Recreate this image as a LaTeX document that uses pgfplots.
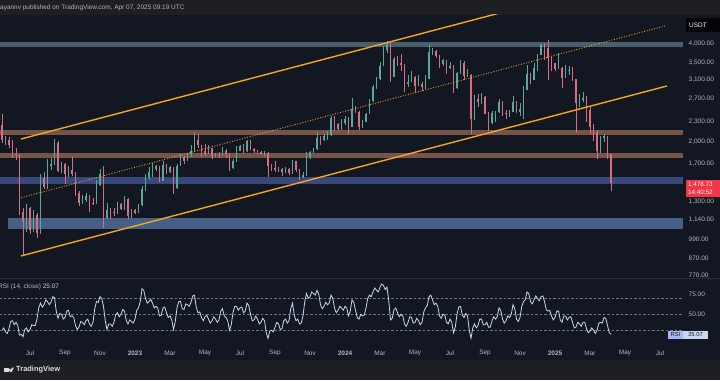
\documentclass[border=0pt]{standalone}
\usepackage{pgfplots}
\pgfplotsset{compat=1.18}
\usepackage{pgfplotstable}
\usepackage{fontspec}
\setmainfont{Liberation Sans}
\definecolor{bg}{HTML}{131722}
\definecolor{barbg}{HTML}{1E1F23}
\definecolor{ticktext}{HTML}{B2B5BE}
\definecolor{upcol}{HTML}{56A898}
\definecolor{dncol}{HTML}{D46E80}
\definecolor{chan}{HTML}{F5A524}
\definecolor{zgray}{RGB}{74,93,108}
\definecolor{zbrown}{RGB}{117,84,74}
\definecolor{zblueA}{RGB}{56,72,120}
\definecolor{zblueB}{RGB}{70,95,135}
\definecolor{rsicol}{HTML}{C8D7F0}
\definecolor{redlab}{HTML}{F23645}
\definecolor{seppane}{HTML}{2A2E39}

\pgfplotstableread{
x O H L C
-1.6 2250 2420 1980 2010
-1.4 2010 2080 1940 2020
-1.2 2020 2060 1900 1945
-1.0 1945 2010 1780 1820
-0.8 1820 1900 1750 1810
-0.6 1810 1830 1180 1210
-0.4 1210 1240 880 1130
-0.2 1130 1280 1050 1240
0.0 1240 1250 1030 1060
0.2 1060 1220 1050 1180
0.4 1180 1200 1000 1040
0.6 1040 1580 1030 1540
0.8 1540 1600 1420 1440
1.0 1440 1760 1420 1680
1.2 1680 1780 1630 1700
1.4 1700 2030 1690 1980
1.6 1980 2000 1600 1620
1.8 1620 1720 1590 1700
2.0 1700 1710 1470 1580
2.2 1580 1680 1550 1630
2.4 1630 1790 1560 1580
2.6 1580 1600 1350 1380
2.8 1380 1400 1260 1290
3.0 1290 1360 1280 1310
3.2 1310 1380 1300 1350
3.4 1350 1360 1210 1290
3.6 1290 1330 1270 1285
3.8 1285 1520 1280 1460
4.0 1460 1640 1450 1580
4.2 1580 1670 1080 1160
4.4 1160 1290 1150 1220
4.6 1220 1240 1150 1210
4.8 1210 1240 1170 1200
5.0 1200 1300 1190 1280
5.2 1280 1290 1220 1230
5.4 1230 1350 1225 1320
5.6 1320 1330 1150 1170
5.8 1170 1230 1160 1220
6.0 1220 1230 1190 1200
6.2 1200 1280 1195 1265
6.4 1265 1450 1260 1420
6.6 1420 1580 1400 1550
6.8 1550 1660 1520 1610
7.0 1610 1710 1550 1640
7.2 1640 1690 1620 1670
7.4 1670 1680 1490 1510
7.6 1510 1740 1500 1690
7.8 1690 1700 1580 1600
8.0 1600 1680 1590 1660
8.2 1660 1665 1370 1430
8.4 1430 1700 1420 1680
8.6 1680 1830 1670 1790
8.8 1790 1800 1700 1740
9.0 1740 1840 1740 1820
9.2 1820 1940 1790 1860
9.4 1860 2140 1850 2010
9.6 2010 2100 1900 1940
9.8 1940 1950 1790 1860
10.0 1860 1960 1800 1830
10.2 1830 1950 1820 1900
10.4 1900 1910 1760 1800
10.6 1800 1840 1790 1810
10.8 1810 1850 1770 1805
11.0 1805 1920 1800 1860
11.2 1860 1890 1780 1830
11.4 1830 1840 1620 1650
11.6 1650 1760 1640 1740
11.8 1740 1930 1720 1870
12.0 1870 1950 1860 1930
12.2 1930 1960 1840 1860
12.4 1860 2020 1850 2000
12.6 2000 2010 1880 1890
12.8 1890 1900 1840 1860
13.0 1860 1880 1820 1850
13.2 1850 1870 1810 1830
13.4 1830 1860 1800 1840
13.6 1840 1850 1550 1670
13.8 1670 1700 1620 1650
14.0 1650 1730 1610 1630
14.2 1630 1660 1600 1640
14.4 1640 1650 1560 1600
14.6 1600 1660 1590 1640
14.8 1640 1650 1570 1590
15.0 1590 1750 1580 1730
15.2 1730 1740 1610 1630
15.4 1630 1640 1520 1550
15.6 1550 1610 1540 1570
15.8 1570 1850 1560 1790
16.0 1790 1870 1760 1850
16.2 1850 1910 1840 1890
16.4 1890 2130 1880 2050
16.6 2050 2070 1940 2010
16.8 2010 2100 2000 2080
17.0 2080 2150 2020 2090
17.2 2090 2400 2080 2360
17.4 2360 2390 2150 2260
17.6 2260 2280 2150 2180
17.8 2180 2340 2170 2270
18.0 2270 2400 2250 2350
18.2 2350 2370 2100 2220
18.4 2220 2715 2210 2520
18.6 2520 2570 2440 2470
18.8 2470 2480 2170 2220
19.0 2220 2330 2200 2300
19.2 2300 2440 2290 2430
19.4 2430 2700 2420 2660
19.6 2660 2990 2650 2950
19.8 2950 3150 2900 3110
20.0 3110 3520 3100 3430
20.2 3430 3950 3420 3820
20.4 3820 4090 3740 4000
20.6 4000 4020 3060 3170
20.8 3170 3650 3150 3590
21.0 3590 3660 3420 3500
21.2 3500 3730 3300 3450
21.4 3450 3480 2850 3010
21.6 3010 3200 2950 3060
21.8 3060 3290 3050 3150
22.0 3150 3180 2810 2970
22.2 2970 3200 2960 3010
22.4 3010 3050 2860 2950
22.6 2950 3200 2910 3120
22.8 3120 3975 3110 3780
23.0 3780 3890 3700 3810
23.2 3810 3840 3620 3680
23.4 3680 3700 3370 3470
23.6 3470 3600 3430 3560
23.8 3560 3570 3240 3370
24.0 3370 3520 3350 3430
24.2 3430 3440 2810 2930
24.4 2930 3270 2900 3250
24.6 3250 3560 3230 3500
24.8 3500 3540 3100 3180
25.0 3180 3350 3150 3200
25.2 3200 3220 2110 2340
25.4 2340 2780 2320 2700
25.6 2700 2790 2550 2640
25.8 2640 2820 2600 2750
26.0 2750 2760 2420 2430
26.2 2430 2470 2150 2270
26.4 2270 2480 2260 2440
26.6 2440 2480 2300 2460
26.8 2460 2700 2450 2640
27.0 2640 2670 2400 2450
27.2 2450 2500 2350 2430
27.4 2430 2500 2380 2470
27.6 2470 2760 2460 2650
27.8 2650 2660 2440 2470
28.0 2470 2620 2400 2510
28.2 2510 2960 2350 2890
28.4 2890 3440 2880 3240
28.6 3240 3250 3000 3100
28.8 3100 3490 3090 3360
29.0 3360 3720 3300 3700
29.2 3700 4010 3690 4000
29.4 4000 4020 3560 3900
29.6 3900 4110 3100 3630
29.8 3630 3650 3300 3490
30.0 3490 3500 3310 3350
30.2 3350 3745 3340 3380
30.4 3380 3400 2920 3140
30.6 3140 3450 3130 3300
30.8 3300 3430 3200 3320
31.0 3320 3400 3080 3110
31.2 3110 3120 2120 2620
31.4 2620 2800 2560 2680
31.6 2680 2850 2640 2720
31.8 2720 2760 2300 2490
32.0 2490 2550 2100 2220
32.2 2220 2260 2000 2140
32.4 2140 2160 1760 1860
32.6 1860 2070 1840 2050
32.8 2050 2100 1990 2070
33.0 2070 2080 1760 1820
33.2 1820 1830 1400 1479
}\candles

\pgfplotstableread{
x R
-1.6 30
-1.5 33
-1.4 28
-1.3 26
-1.2 32
-1.1 41
-1.0 42
-0.9 37
-0.8 40
-0.7 36
-0.6 24
-0.5 25
-0.4 22
-0.3 31
-0.2 33
-0.1 28
0.0 31
0.1 37
0.2 36
0.3 36
0.4 44
0.5 58
0.6 64
0.7 59
0.8 62
0.9 68
1.0 66
1.1 62
1.2 65
1.3 72
1.4 71
1.5 54
1.6 45
1.7 51
1.8 50
1.9 44
2.0 46
2.1 54
2.2 55
2.3 47
2.4 48
2.5 46
2.6 36
2.7 31
2.8 34
2.9 41
3.0 40
3.1 37
3.2 42
3.3 44
3.4 38
3.5 35
3.6 40
3.7 57
3.8 66
3.9 65
4.0 72
4.1 70
4.2 60
4.3 42
4.4 31
4.5 38
4.6 38
4.7 35
4.8 40
4.9 50
5.0 52
5.1 47
5.2 50
5.3 56
5.4 54
5.5 42
5.6 38
5.7 43
5.8 41
5.9 39
6.0 44
6.1 55
6.2 58
6.3 66
6.4 82
6.5 80
6.6 70
6.7 64
6.8 66
6.9 69
7.0 64
7.1 58
7.2 60
7.3 58
7.4 48
7.5 49
7.6 58
7.7 59
7.8 52
7.9 46
8.0 48
8.1 43
8.2 31
8.3 41
8.4 58
8.5 66
8.6 66
8.7 57
8.8 56
8.9 63
9.0 62
9.1 60
9.2 65
9.3 73
9.4 74
9.5 59
9.6 52
9.7 53
9.8 46
9.9 42
10.0 47
10.1 49
10.2 44
10.3 39
10.4 42
10.5 47
10.6 44
10.7 40
10.8 43
10.9 54
11.0 57
11.1 48
11.2 46
11.3 42
11.4 30
11.5 37
11.6 52
11.7 60
11.8 60
11.9 55
12.0 58
12.1 59
12.2 52
12.3 54
12.4 64
12.5 61
12.6 50
12.7 42
12.8 43
12.9 48
13.0 44
13.1 38
13.2 40
13.3 45
13.4 42
13.5 27
13.6 20
13.7 29
13.8 30
13.9 28
14.0 34
14.1 40
14.2 38
14.3 31
14.4 32
14.5 42
14.6 44
14.7 39
14.8 42
14.9 57
15.0 64
15.1 49
15.2 42
15.3 44
15.4 38
15.5 39
15.6 48
15.7 66
15.8 76
15.9 70
16.0 72
16.1 78
16.2 76
16.3 74
16.4 80
16.5 75
16.6 62
16.7 57
16.8 60
16.9 65
17.0 62
17.1 64
17.2 74
17.3 70
17.4 58
17.5 52
17.6 55
17.7 60
17.8 58
17.9 55
18.0 60
18.1 58
18.2 48
18.3 54
18.4 68
18.5 65
18.6 55
18.7 46
18.8 44
18.9 50
19.0 48
19.1 49
19.2 58
19.3 70
19.4 74
19.5 72
19.6 78
19.7 83
19.8 80
19.9 78
20.0 84
20.1 88
20.2 86
20.3 81
20.4 84
20.5 67
20.6 43
20.7 45
20.8 56
20.9 58
21.0 52
21.1 47
21.2 50
21.3 48
21.4 38
21.5 35
21.6 40
21.7 47
21.8 46
21.9 39
22.0 40
22.1 45
22.2 42
22.3 37
22.4 40
22.5 53
22.6 58
22.7 61
22.8 72
22.9 74
23.0 68
23.1 62
23.2 64
23.3 60
23.4 48
23.5 45
23.6 50
23.7 49
23.8 40
23.9 38
24.0 44
24.1 40
24.2 27
24.3 34
24.4 50
24.5 59
24.6 60
24.7 49
24.8 46
24.9 51
25.0 48
25.1 30
25.2 20
25.3 33
25.4 38
25.5 33
25.6 36
25.7 44
25.8 44
25.9 37
26.0 37
26.1 40
26.2 34
26.3 34
26.4 42
26.5 47
26.6 44
26.7 47
26.8 58
26.9 55
27.0 44
27.1 39
27.2 42
27.3 48
27.4 46
27.5 50
27.6 62
27.7 57
27.8 44
27.9 41
28.0 46
28.1 60
28.2 66
28.3 68
28.4 78
28.5 76
28.6 66
28.7 63
28.8 68
28.9 73
29.0 70
29.1 67
29.2 72
29.3 73
29.4 66
29.5 56
29.6 54
29.7 55
29.8 48
29.9 43
30.0 46
30.1 54
30.2 54
30.3 43
30.4 40
30.5 48
30.6 48
30.7 43
30.8 46
30.9 47
31.0 40
31.1 33
31.2 34
31.3 40
31.4 38
31.5 35
31.6 40
31.7 40
31.8 32
31.9 27
32.0 29
32.1 33
32.2 30
32.3 26
32.4 30
32.5 39
32.6 40
32.7 39
32.8 46
32.9 45
33.0 36
33.1 27
33.2 25.07
}\rsidata

\pgfplotsset{
  tvaxis/.style={
    scale only axis, anchor=south west,
    xmin=-1.714, xmax=37.371,
    axis line style={draw=none},
    major tick length=0pt,
    tick style={draw=none},
    yticklabel pos=right,
    yticklabel style={font=\fontsize{6.5}{7.5}\selectfont, text=ticktext, anchor=west, xshift=1.2bp},
  },
  candle/.style 2 args={#1, only marks, mark=text, text mark={}, forget plot,
    error bars/.cd, y dir=plus, y explicit, error mark=none,
    error bar style={draw=#1, line width=#2}},
}

\begin{document}
\begin{tikzpicture}[x=1bp,y=1bp]
\fill[bg] (0,0) rectangle (720,380);
\fill[barbg] (0,365) rectangle (720,380);
\fill[barbg] (0,0) rectangle (720,20);
\draw[seppane, line width=0.8bp] (0,102) -- (720,102);

% ---------------- price pane ----------------
\begin{axis}[tvaxis,
  at={(0bp,102bp)}, width=684bp, height=263bp,
  ymin=6.625, ymax=8.5008,
  xtick=\empty,
  ytick={8.29405,8.16052,8.03916,7.90101,7.74066,7.60090,7.43838,7.17012,7.03878,6.89770,6.76849,6.64639},
  yticklabels={{4,000.00},{3,500.00},{3,100.00},{2,700.00},{2,300.00},{2,000.00},{1,700.00},{1,300.00},{1,140.00},{990.00},{870.00},{770.00}},
]
% zones
\addplot[draw=none, fill=zgray, forget plot] table[row sep=\\, x=x, y expr=ln(\thisrow{p})] {x p\\ -2 3917\\ 37.31 3917\\ 37.31 4057\\ -2 4057\\};
\addplot[draw=none, fill=zbrown, forget plot] table[row sep=\\, x=x, y expr=ln(\thisrow{p})] {x p\\ -2 2091\\ 37.31 2091\\ 37.31 2165\\ -2 2165\\};
\addplot[draw=none, fill=zbrown, forget plot] table[row sep=\\, x=x, y expr=ln(\thisrow{p})] {x p\\ -2 1773\\ 37.31 1773\\ 37.31 1838\\ -2 1838\\};
\addplot[draw=none, fill=zblueA, forget plot] table[row sep=\\, x=x, y expr=ln(\thisrow{p})] {x p\\ -2 1473\\ 37.31 1473\\ 37.31 1549\\ -2 1549\\};
\addplot[draw=none, fill=zblueB, forget plot] table[row sep=\\, x=x, y expr=ln(\thisrow{p})] {x p\\ -1.257 1069\\ 37.31 1069\\ 37.31 1155\\ -1.257 1155\\};

% wicks
\addplot[candle={upcol}{0.6bp}]
  table[x=x, y expr={\thisrow{C}>=\thisrow{O} ? ln(\thisrow{L}) : 0}, y error plus expr={ln(\thisrow{H})-ln(\thisrow{L})}] {\candles};
\addplot[candle={dncol}{0.6bp}]
  table[x=x, y expr={\thisrow{C}<\thisrow{O} ? ln(\thisrow{L}) : 0}, y error plus expr={ln(\thisrow{H})-ln(\thisrow{L})}] {\candles};
% bodies
\addplot[candle={upcol}{1.8bp}]
  table[x=x, y expr={\thisrow{C}>=\thisrow{O} ? ln(\thisrow{O}) : 0}, y error plus expr={ln(\thisrow{C})-ln(\thisrow{O})}] {\candles};
\addplot[candle={dncol}{1.8bp}]
  table[x=x, y expr={\thisrow{C}<\thisrow{O} ? ln(\thisrow{C}) : 0}, y error plus expr={ln(\thisrow{O})-ln(\thisrow{C})}] {\candles};

% channel lines
\addplot[chan, line width=1.4bp, forget plot] table[row sep=\\, x=x, y expr=ln(\thisrow{p})] {x p\\ -0.514 2031\\ 28 5183\\};
\addplot[chan, line width=1.4bp, forget plot] table[row sep=\\, x=x, y expr=ln(\thisrow{p})] {x p\\ -0.514 882\\ 36.4 2965\\};
\addplot[chan, line width=0.8bp, dash pattern=on 1bp off 1.6bp, forget plot] table[row sep=\\, x=x, y expr=ln(\thisrow{p})] {x p\\ -0.514 1336\\ 36.34 4557\\};
\end{axis}

% ---------------- RSI pane ----------------
\begin{axis}[tvaxis,
  at={(0bp,34bp)}, width=684bp, height=68bp,
  ymin=10.4, ymax=95.4,
  ytick={75,50}, yticklabels={75.00,50.00},
  xtick={0,2,...,36},
  xticklabels={Jul,Sep,Nov,\textbf{2023},Mar,May,Jul,Sep,Nov,\textbf{2024},Mar,May,Jul,Sep,Nov,\textbf{2025},Mar,May,Jul},
  xticklabel style={font=\fontsize{6.5}{7.5}\selectfont, text=ticktext, anchor=center, yshift=-7bp},
]
\addplot[ticktext!60!bg, line width=0.6bp, dash pattern=on 2.5bp off 2bp, forget plot] coordinates {(-2,70) (38,70)};
\addplot[ticktext!60!bg, line width=0.6bp, dash pattern=on 2.5bp off 2bp, forget plot] coordinates {(-2,50) (38,50)};
\addplot[ticktext!60!bg, line width=0.6bp, dash pattern=on 2.5bp off 2bp, forget plot] coordinates {(-2,30) (38,30)};
\addplot[rsicol, line width=0.8bp, forget plot] table[x=x, y=R] {\rsidata};
\end{axis}

% ---------------- annotations ----------------
\node[anchor=west, inner sep=0, text=ticktext, font=\fontsize{6.5}{7.5}\selectfont] at (0,372) {ayannv published on TradingView.com, Apr 07, 2025 09:19 UTC};
\fill[black!85!bg] (686,348) rectangle (720,362);
\node[anchor=west, inner sep=0, text=white, font=\fontsize{6.5}{7.5}\selectfont] at (689,355) {USDT};
\fill[redlab] (686,183) rectangle (720,200);
\node[anchor=west, inner sep=0, text=white, font=\fontsize{6.3}{7}\selectfont] at (688,195.5) {1,478.73};
\node[anchor=west, inner sep=0, text=white, font=\fontsize{6.3}{7}\selectfont] at (688,187.5) {14:40:52};
\node[anchor=west, inner sep=0, font=\fontsize{6.5}{7.5}\selectfont] at (-2,93) {\textcolor{ticktext}{RSI (14, close)}\ \textcolor{rsicol}{25.07}};
\fill[rsicol!85!blue] (668,41) rectangle (683,49);
\fill[rsicol] (683,41) rectangle (708,49);
\node[inner sep=0, text=bg, font=\fontsize{5.8}{6.5}\selectfont] at (675.5,45) {RSI};
\node[inner sep=0, text=bg, font=\fontsize{5.8}{6.5}\selectfont] at (695.5,45) {25.07};
% footer logo + text
\fill[white!85!barbg] (4,8) rectangle (8.5,12.5);
\fill[white!85!barbg] (10,10) circle (1.3);
\fill[white!85!barbg] (11.5,8) -- (14,12.5) -- (12,12.5) -- (9.8,8) -- cycle;
\node[anchor=west, inner sep=0, text=white!85!barbg, font=\fontsize{7.5}{8}\selectfont\bfseries] at (16,10) {TradingView};
\pgfresetboundingbox
\path[use as bounding box] (0,0) rectangle (720,380);
\end{tikzpicture}
\end{document}
